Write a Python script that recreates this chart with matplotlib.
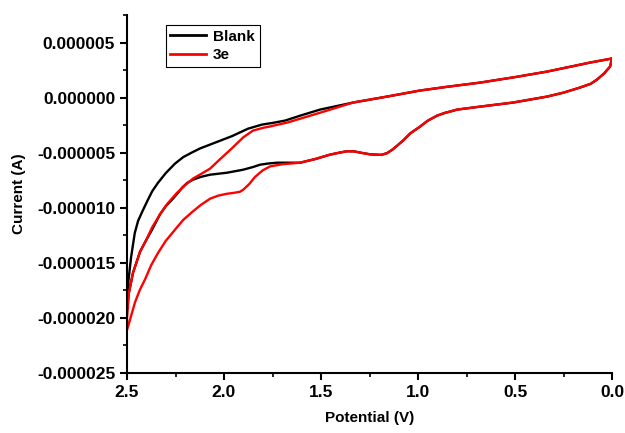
import numpy as np
import matplotlib as mpl
mpl.use('Agg')
import matplotlib.pyplot as plt
from matplotlib.ticker import MultipleLocator, FormatStrFormatter

# cyclic voltammograms, potential in V, current in microamps
# each loop: upper branch 0.0 -> 2.5 V, then lower branch 2.5 -> 0.0 V
blank_v = [0.000, 0.113, 0.335, 0.500, 0.680, 0.850, 0.990, 1.160, 1.335, 1.505,
           1.600, 1.686, 1.750, 1.804, 1.876, 1.959, 2.046, 2.124, 2.165, 2.210,
           2.253, 2.300, 2.340, 2.370, 2.392, 2.420, 2.443, 2.460, 2.479, 2.495,
           2.500,
           2.500, 2.490, 2.469, 2.450, 2.433, 2.400, 2.371, 2.330, 2.300, 2.268,
           2.240, 2.216, 2.190, 2.160, 2.120, 2.072, 1.985, 1.902, 1.850, 1.814,
           1.770, 1.727, 1.608, 1.530, 1.454, 1.400, 1.366, 1.330, 1.290, 1.247,
           1.190, 1.160, 1.130, 1.100, 1.077, 1.040, 0.990, 0.950, 0.902, 0.860,
           0.835, 0.799, 0.680, 0.510, 0.335, 0.250, 0.165, 0.110, 0.077, 0.040,
           0.010, 0.000]
blank_i = [3.55, 3.18, 2.36, 1.86, 1.36, 0.98, 0.64, 0.09, -0.45, -1.09,
           -1.60, -2.09, -2.30, -2.45, -2.82, -3.50, -4.09, -4.62, -4.98, -5.40,
           -6.00, -6.85, -7.73, -8.50, -9.27, -10.3, -11.2, -12.3, -14.5, -17.0,
           -17.9,
           -19.0, -17.7, -15.9, -14.9, -14.0, -12.9, -12.0, -10.6, -9.85, -9.27,
           -8.70, -8.18, -7.75, -7.45, -7.20, -7.00, -6.82, -6.55, -6.30, -6.09,
           -5.98, -5.91, -5.91, -5.58, -5.18, -4.98, -4.87, -4.88, -5.02, -5.15,
           -5.20, -5.05, -4.70, -4.25, -3.90, -3.25, -2.64, -2.10, -1.64, -1.38,
           -1.27, -1.09, -0.82, -0.45, 0.09, 0.45, 0.91, 1.25, 1.64, 2.20,
           2.82, 3.55]

e3_v = [0.000, 0.113, 0.335, 0.500, 0.680, 0.850, 0.990, 1.160, 1.335, 1.469,
        1.572, 1.675, 1.763, 1.800, 1.851, 1.900, 1.959, 2.021, 2.072, 2.120,
        2.160, 2.200, 2.242, 2.290, 2.330, 2.371, 2.400, 2.433, 2.450, 2.469,
        2.490, 2.495, 2.500,
        2.500, 2.485, 2.459, 2.435, 2.407, 2.375, 2.340, 2.300, 2.253, 2.210,
        2.165, 2.120, 2.072, 2.030, 1.985, 1.950, 1.918, 1.900, 1.870, 1.840,
        1.800, 1.763, 1.700, 1.608, 1.530, 1.454, 1.400, 1.366, 1.330, 1.290,
        1.247, 1.190, 1.160, 1.130, 1.100, 1.077, 1.040, 0.990, 0.950, 0.902,
        0.860, 0.835, 0.799, 0.680, 0.510, 0.335, 0.250, 0.165, 0.110, 0.077,
        0.040, 0.010, 0.000]
e3_i = [3.55, 3.18, 2.36, 1.86, 1.36, 0.98, 0.64, 0.09, -0.45, -1.18,
        -1.73, -2.27, -2.62, -2.75, -3.00, -3.60, -4.60, -5.60, -6.45, -6.95,
        -7.35, -7.95, -8.64, -9.60, -10.6, -11.8, -12.9, -14.0, -14.9, -15.9,
        -17.7, -19.0, -20.0,
        -21.1, -20.2, -18.6, -17.5, -16.5, -15.2, -14.1, -13.0, -12.0, -11.1,
        -10.4, -9.75, -9.18, -8.90, -8.73, -8.65, -8.55, -8.35, -7.85, -7.20,
        -6.60, -6.25, -6.05, -5.91, -5.58, -5.18, -4.98, -4.87, -4.88, -5.02,
        -5.15, -5.20, -5.05, -4.70, -4.25, -3.90, -3.25, -2.64, -2.10, -1.64,
        -1.38, -1.27, -1.09, -0.82, -0.45, 0.09, 0.45, 0.91, 1.25, 1.64,
        2.20, 2.82, 3.55]

labels = ['Blank', '3e']

plt.rcParams['font.family'] = ['Liberation Sans', 'DejaVu Sans']
plt.rcParams['font.weight'] = 'bold'

fig = plt.figure(figsize=(6.25, 4.33), dpi=100, facecolor='white')
ax = fig.add_axes([0.2032, 0.1386, 0.7760, 0.8268])

ax.plot(blank_v, np.array(blank_i) * 1e-6, color='black', lw=1.7, label=labels[0])
ax.plot(e3_v, np.array(e3_i) * 1e-6, color='red', lw=1.7, label=labels[1])

ax.set_xlim(2.5, 0.0)
ax.set_ylim(-2.5e-5, 7.5e-6)
ax.xaxis.set_major_locator(MultipleLocator(0.5))
ax.xaxis.set_minor_locator(MultipleLocator(0.25))
ax.xaxis.set_major_formatter(FormatStrFormatter('%.1f'))
ax.yaxis.set_major_locator(MultipleLocator(5e-6))
ax.yaxis.set_minor_locator(MultipleLocator(2.5e-6))
ax.yaxis.set_major_formatter(FormatStrFormatter('%.6f'))

for side in ['top', 'right']:
    ax.spines[side].set_visible(False)
for side in ['left', 'bottom']:
    ax.spines[side].set_linewidth(1.5)
ax.tick_params(which='major', direction='out', length=5, width=1.5, labelsize=12.5)
ax.tick_params(which='minor', direction='out', length=3, width=1.2)

ax.set_xlabel('Potential (V)', fontsize=11, fontweight='bold', labelpad=8)
ax.set_ylabel('Current (A)', fontsize=11, fontweight='bold', labelpad=8)

leg = ax.legend(loc='upper left', bbox_to_anchor=(0.08, 0.972), borderaxespad=0,
                fancybox=False, framealpha=1, edgecolor='black', handlelength=2.3,
                handletextpad=0.5, borderpad=0.3, labelspacing=0.3,
                prop={'size': 11, 'weight': 'bold'})
leg.get_frame().set_linewidth(0.8)
for line in leg.get_lines():
    line.set_linewidth(2.0)

plt.savefig('out.png', dpi=100, facecolor=fig.get_facecolor())
